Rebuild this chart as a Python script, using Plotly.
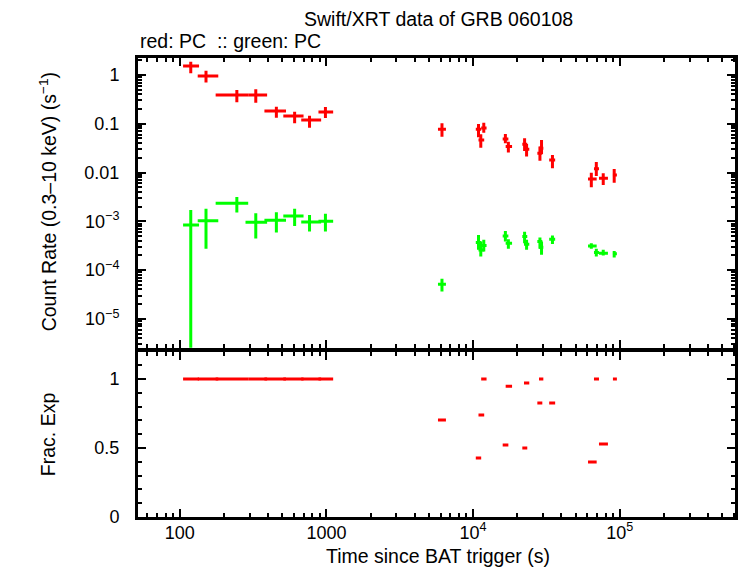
import numpy as np
import plotly.graph_objects as go

# ---------------- data ----------------
red_t = [118.8, 150.9, 244.9, 329.7, 455.5, 606.8, 766.5, 984,
         6132, 10882, 11822, 11280, 16596, 17393, 22438, 23150, 28547, 29270, 34750,
         63970, 69180, 77130, 91620]
red_t_lo = [105.3, 132.5, 175.6, 292.7, 377.6, 508, 673, 882,
            5760, 10430, 11350, 10880, 15910, 16670, 21650, 22230, 27410, 28140, 33010,
            60740, 66700, 72140, 89800]
red_t_hi = [135.3, 183, 292.7, 393.9, 530, 698, 920, 1111,
            6527, 11350, 12350, 11900, 17390, 18430, 23400, 24150, 29640, 30110, 36260,
            69570, 72140, 83040, 95560]
red_rate = [1.53, 0.954, 0.389, 0.389, 0.183, 0.1445, 0.1197, 0.1745,
            0.0771, 0.077, 0.082, 0.0466, 0.0488, 0.034, 0.038, 0.030, 0.0249, 0.0315, 0.0181,
            0.0074, 0.012, 0.00764, 0.00893]
red_rate_lo = [1.08, 0.70, 0.276, 0.271, 0.133, 0.102, 0.083, 0.1315,
               0.0544, 0.0529, 0.0657, 0.0324, 0.0398, 0.0256, 0.0277, 0.0212, 0.0175, 0.024, 0.01225,
               0.005, 0.0085, 0.00557, 0.0062]
red_rate_hi = [1.87, 1.22, 0.493, 0.509, 0.224, 0.177, 0.1466, 0.221,
               0.1023, 0.099, 0.1054, 0.061, 0.0618, 0.043, 0.0504, 0.0386, 0.034, 0.0466, 0.023,
               0.00995, 0.0165, 0.0097, 0.01185]
red_fracexp = [1, 1, 1, 1, 1, 1, 1, 1,
               0.703, 0.4275, 1.0, 0.739, 0.522, 0.949, 0.5, 0.971, 0.826, 1.0, 0.826,
               0.3986, 1.0, 0.529, 1.0]

green_t = red_t
green_t_lo = [105.3, 132.5, 175.6, 280.6, 377.6, 508, 673, 882,
              5760, 10430, 11350, 10880, 15910, 16670, 21650, 22230, 27410, 28140, 33010,
              60740, 66700, 72140, 89800]
green_t_hi = red_t_hi
green_rate = [8.44e-4, 1.02e-3, 2.35e-3, 9.59e-4, 1.05e-3, 1.29e-3, 9.72e-4, 1.0e-3,
              5.14e-5, 3.66e-4, 3.18e-4, 2.59e-4, 5.02e-4, 3.56e-4, 4.86e-4, 3.4e-4, 3.84e-4, 2.94e-4, 4.3e-4,
              3.13e-4, 2.28e-4, 2.22e-4, 2.15e-4]
green_rate_lo = [1e-6, 2.72e-4, 1.51e-3, 4.42e-4, 5.88e-4, 8.05e-4, 6.15e-4, 6.15e-4,
                 3.63e-5, 2.6e-4, 2.39e-4, 1.89e-4, 3.84e-4, 2.72e-4, 3.56e-4, 2.6e-4, 2.72e-4, 2.05e-4, 3.44e-4,
                 2.72e-4, 1.89e-4, 1.98e-4, 1.8e-4]
green_rate_hi = [1.71e-3, 1.8e-3, 3.16e-3, 1.47e-3, 1.54e-3, 1.80e-3, 1.35e-3, 1.42e-3,
                 6.6e-5, 5.26e-4, 4.16e-4, 3.84e-4, 6.36e-4, 4.3e-4, 6.07e-4, 4.16e-4, 4.63e-4, 3.84e-4, 5.09e-4,
                 3.56e-4, 2.72e-4, 2.6e-4, 2.47e-4]

x_tickvals = [100, 1000, 1e4, 1e5]
x_ticktext = ["100", "1000", "10<sup>4</sup>", "10<sup>5</sup>"]
y_tickvals = [1, 0.1, 0.01, 1e-3, 1e-4, 1e-5]
y_ticktext = ["1", "0.1", "0.01", "10<sup>\u22123</sup>", "10<sup>\u22124</sup>", "10<sup>\u22125</sup>"]
f_tickvals = [0, 0.5, 1]
f_ticktext = ["0", "0.5", "1"]

RED = "#ff0000"
GREEN = "#00ff00"
FONT = "Liberation Sans"
FS = 18      # tick labels
FT = 19.5    # titles / labels


def errs(v, lo, hi):
    v = np.array(v, float)
    return np.array(hi, float) - v, v - np.array(lo, float)


fig = go.Figure()


def add_rate(t, tlo, thi, r, rlo, rhi, color):
    xp, xm = errs(t, tlo, thi)
    yp, ym = errs(r, rlo, rhi)
    fig.add_trace(go.Scatter(
        x=t, y=r, mode="markers", xaxis="x2", yaxis="y2",
        marker=dict(size=0.1, color=color),
        error_x=dict(type="data", symmetric=False, array=xp, arrayminus=xm,
                     color=color, thickness=3, width=0),
        error_y=dict(type="data", symmetric=False, array=yp, arrayminus=ym,
                     color=color, thickness=3, width=0),
        showlegend=False, hoverinfo="skip"))


add_rate(green_t, green_t_lo, green_t_hi, green_rate, green_rate_lo, green_rate_hi, GREEN)
add_rate(red_t, red_t_lo, red_t_hi, red_rate, red_rate_lo, red_rate_hi, RED)

xp, xm = errs(red_t, red_t_lo, red_t_hi)
fig.add_trace(go.Scatter(
    x=red_t, y=red_fracexp, mode="markers", xaxis="x", yaxis="y",
    marker=dict(size=0.1, color=RED),
    error_x=dict(type="data", symmetric=False, array=xp, arrayminus=xm,
                 color=RED, thickness=3, width=0),
    showlegend=False, hoverinfo="skip"))

# geometry
L, R = 138, 738
x100, dec = 180.0, 147.4
xr = [2 - (x100 - L) / dec, 2 + (R - x100) / dec]
T, B = 58, 517.3
H = 568 - T - (568 - B)
top_dom = [(B - 348) / H, 1]
bot_dom = [0, (B - 351.7) / H]
y1pix, ydec = 75.0, 48.8
yr_top = [(y1pix - 348) / ydec, (y1pix - 58) / ydec]

minor_x = [m * 10 ** k for k in range(1, 6) for m in range(2, 10)]
minor_y = [m * 10 ** k for k in range(-7, 1) for m in range(2, 10)]

common = dict(showline=True, linecolor="black", linewidth=3, mirror="allticks",
              ticks="inside", ticklen=8, tickwidth=1.5, tickcolor="black",
              showgrid=False, zeroline=False,
              tickfont=dict(family=FONT, size=FS, color="black"))

fig.update_layout(
    width=746, height=568,
    margin=dict(l=L, r=746 - R, t=T, b=568 - B, pad=0),
    paper_bgcolor="white", plot_bgcolor="white",
    xaxis=dict(type="log", range=xr, domain=[0, 1], anchor="y",
               tickvals=x_tickvals, ticktext=x_ticktext,
               minor=dict(tickvals=minor_x, ticks="inside", ticklen=4, tickwidth=1.5, tickcolor="black"),
               ticklabelstandoff=-3, **common),
    yaxis=dict(range=[0, 1.2], domain=bot_dom, anchor="x",
               tickvals=f_tickvals, ticktext=f_ticktext,
               minor=dict(dtick=0.1, ticks="inside", ticklen=4, tickwidth=1.5, tickcolor="black"),
               ticklabelstandoff=12, **common),
    xaxis2=dict(type="log", range=xr, domain=[0, 1], anchor="y2", matches="x",
                tickvals=x_tickvals, ticktext=x_ticktext, showticklabels=False,
                minor=dict(tickvals=minor_x, ticks="inside", ticklen=4, tickwidth=1.5, tickcolor="black"),
                **common),
    yaxis2=dict(type="log", range=yr_top, domain=top_dom, anchor="x2",
                tickvals=y_tickvals, ticktext=y_ticktext,
                minor=dict(tickvals=minor_y, ticks="inside", ticklen=4, tickwidth=1.5, tickcolor="black"),
                ticklabelstandoff=12, **common),
    font=dict(family=FONT, size=FS, color="black"),
)

ann_font = dict(family=FONT, size=FT, color="black")
fig.add_annotation(text="Swift/XRT data of GRB 060108", xref="paper", yref="paper",
                   x=(440 - L) / (R - L), y=(B - 19) / H, xanchor="center", yanchor="middle",
                   showarrow=False, font=ann_font)
fig.add_annotation(text="red: PC  :: green: PC", xref="paper", yref="paper",
                   x=0, y=(B - 41) / H, xanchor="left", yanchor="middle",
                   showarrow=False, font=ann_font)
fig.add_annotation(text="Count Rate (0.3\u201310 keV) (s<sup>\u22121</sup>)", xref="paper", yref="paper",
                   x=(47 - L) / (R - L), y=(B - 202) / H, xanchor="center", yanchor="middle",
                   textangle=-90, showarrow=False, font=ann_font)
fig.add_annotation(text="Frac. Exp", xref="paper", yref="paper",
                   x=(47 - L) / (R - L), y=(B - 434) / H, xanchor="center", yanchor="middle",
                   textangle=-90, showarrow=False, font=ann_font)
fig.add_annotation(text="Time since BAT trigger (s)", xref="paper", yref="paper",
                   x=(440 - L) / (R - L), y=(B - 556) / H, xanchor="center", yanchor="middle",
                   showarrow=False, font=ann_font)

fig.write_html("out.html")
